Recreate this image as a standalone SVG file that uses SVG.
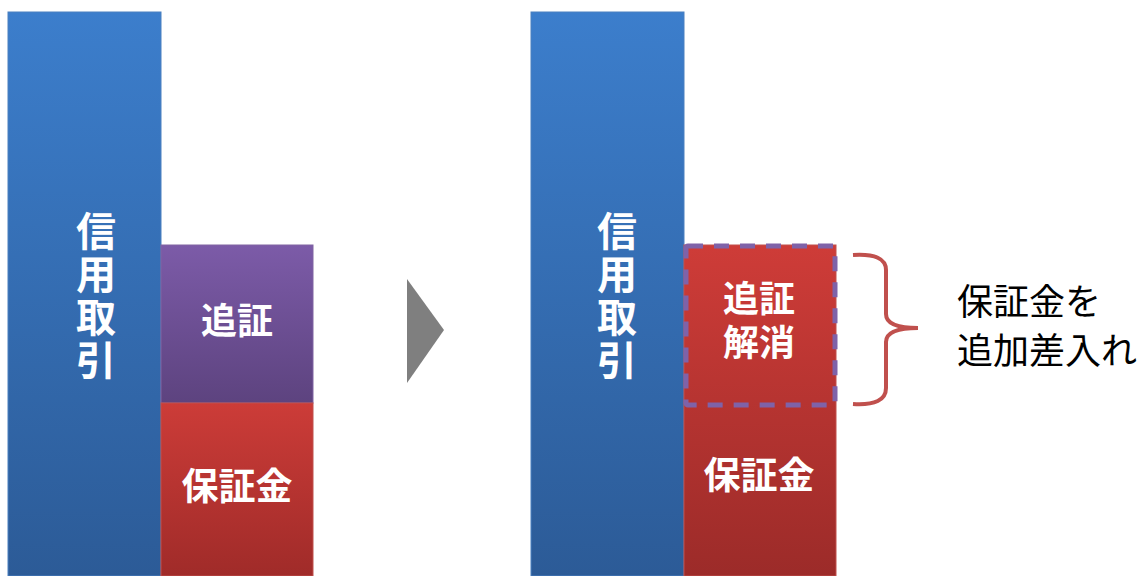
<svg xmlns="http://www.w3.org/2000/svg" width="1147" height="576" viewBox="0 0 1147 576">
<defs>
<linearGradient id="gBlue" x1="0" y1="0" x2="0" y2="1"><stop offset="0" stop-color="#3c7ecc"/><stop offset="1" stop-color="#2c5b97"/></linearGradient>
<linearGradient id="gPurple" x1="0" y1="0" x2="0" y2="1"><stop offset="0" stop-color="#7c5ba8"/><stop offset="1" stop-color="#5d437f"/></linearGradient>
<linearGradient id="gRed1" x1="0" y1="0" x2="0" y2="1"><stop offset="0" stop-color="#cc3c38"/><stop offset="1" stop-color="#a02b29"/></linearGradient>
<linearGradient id="gRed2" x1="0" y1="0" x2="0" y2="1"><stop offset="0" stop-color="#ce3c38"/><stop offset="1" stop-color="#9c2b29"/></linearGradient>
<style>
.w{fill:#fff;font-family:"Noto Sans CJK JP","Noto Sans CJK SC",sans-serif;font-weight:700;text-anchor:middle}
.v{writing-mode:vertical-rl;text-orientation:upright;letter-spacing:3px}
.k{fill:#000;font-family:"Noto Sans CJK JP","Noto Sans CJK SC",sans-serif;font-size:36px}
.edge{stroke-width:1}
</style>
</defs>
<g id="left-credit">
<rect x="8" y="12" width="153" height="564" fill="url(#gBlue)" stroke="#4a80c0" class="edge"/>
<text class="w v" font-size="40" x="96" y="297">信用取引</text>
</g>
<g id="left-oishou">
<rect x="161" y="245" width="152" height="158" fill="url(#gPurple)" stroke="#8064a2" class="edge"/>
<text class="w" font-size="36" x="237" y="334">追証</text>
</g>
<g id="left-margin">
<rect x="161" y="403" width="152" height="173" fill="url(#gRed1)" stroke="#c0504d" class="edge"/>
<text class="w" font-size="37" x="237" y="500">保証金</text>
</g>
<g id="arrow">
<polygon points="407,279 444,330 407,383" fill="#7f7f7f"/>
</g>
<g id="right-credit">
<rect x="531" y="12" width="153" height="564" fill="url(#gBlue)" stroke="#4a80c0" class="edge"/>
<text class="w v" font-size="40" x="617" y="297">信用取引</text>
</g>
<g id="right-margin">
<rect x="684" y="245" width="152" height="331" fill="url(#gRed2)" stroke="#c0504d" class="edge"/>
<text class="w" font-size="36" x="759" y="312">追証</text>
<text class="w" font-size="36" x="759" y="356">解消</text>
<text class="w" font-size="37" x="759" y="489">保証金</text>
</g>
<g id="dashed-box">
<rect x="686" y="246" width="149" height="159" rx="2" fill="none" stroke="#7f62a8" stroke-width="5" stroke-dasharray="15 11"/>
</g>
<g id="connectors">
<path d="M853,255 Q886,253 886,270 L886,314 Q886,328 918,328 Q886,328 886,342 L886,388 Q886,406 853,404" fill="none" stroke="#c0504d" stroke-width="4"/>
</g>
<g id="note">
<text class="k" x="957" y="315">保証金を</text>
<text class="k" x="957" y="364">追加差入れ</text>
</g>
</svg>
